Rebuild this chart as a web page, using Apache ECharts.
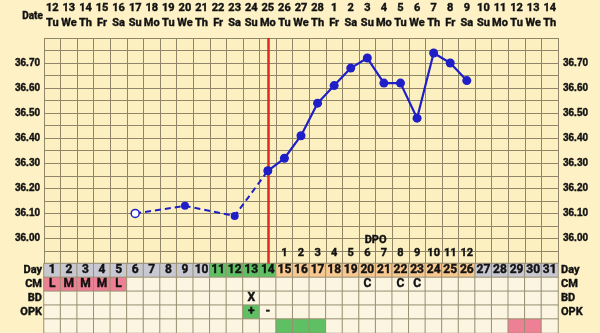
<!DOCTYPE html>
<html><head><meta charset="utf-8">
<script src="https://cdn.jsdelivr.net/npm/echarts@6/dist/echarts.min.js"></script>
<style>html,body{margin:0;padding:0;background:#fdf1c5;}#c{width:600px;height:333px;}</style>
</head><body><div id="c"></div>
<script>
const cycleDays = ['1','2','3','4','5','6','7','8','9','10','11','12','13','14','15','16','17','18','19','20','21','22','23','24','25','26','27','28','29','30','31'];
const dates = ['12','13','14','15','16','17','18','19','20','21','22','23','24','25','26','27','28','1','2','3','4','5','6','7','8','9','10','11','12','13','14'];
const weekdays = ['Tu','We','Th','Fr','Sa','Su','Mo','Tu','We','Th','Fr','Sa','Su','Mo','Tu','We','Th','Fr','Sa','Su','Mo','Tu','We','Th','Fr','Sa','Su','Mo','Tu','We','Th'];
const tempsDashed = [null,null,null,null,null,36.10,null,null,36.13,null,null,36.09,null,36.27,null,null,null,null,null,null,null,null,null,null,null,null,null,null,null,null,null];
const tempsSolid = [null,null,null,null,null,null,null,null,null,null,null,null,null,36.27,36.32,36.41,36.54,36.61,36.68,36.72,36.62,36.62,36.48,36.74,36.70,36.63,null,null,null,null,null];
const openPoints = [5];
const dpoLabels = ['','','','','','','','','','','','','','','1','2','3','4','5','6','7','8','9','10','11','12','','','','',''];
const cmRow = ['L','M','M','M','L','','','','','','','','','','','','','','','C','','C','C','','','','','','','',''];
const bdRow = ['','','','','','','','','','','','','X','','','','','','','','','','','','','','','','','',''];
const opkRow = ['','','','','','','','','','','','','+','-','','','','','','','','','','','','','','','','',''];
const dayPhase = ['b','b','b','b','b','b','b','b','b','b','f','f','f','f','l','l','l','l','l','l','l','l','l','l','l','l','b','b','b','b','b'];
const extraRow = ['','','','','','','','','','','','','','','g','g','g','','','','','','','','','','','','p','p',''];
const rowNames = ['Day','CM','BD','OPK',''];
const ovulationDay = '14';
</script>
<script>
const C = {
  cell:'#fcf5e2', grey:'#c8c8d2', green:'#5fbf63', orange:'#f7c88f', pink:'#ee8095',
  line:'#8f8568', blue:'#1f1fc8', red:'#e02a22'
};
const FONT = 'Roboto';
function cellColor(r, i){
  if (r === 0) return dayPhase[i]==='f'?C.green:(dayPhase[i]==='l'?C.orange:C.grey);
  if (r === 1) return (cmRow[i]==='L'||cmRow[i]==='M')?C.pink:C.cell;
  if (r === 3) return opkRow[i]==='+'?C.green:C.cell;
  if (r === 4) return extraRow[i]==='g'?C.green:(extraRow[i]==='p'?C.pink:C.cell);
  return C.cell;
}
const rowsText = [cycleDays, cmRow, bdRow, opkRow, extraRow.map(()=> '')];
const heat = [];
for (let r=0;r<5;r++) for (let i=0;i<31;i++){
  heat.push({value:[i,r,1], itemStyle:{color:cellColor(r,i)}, label:{formatter: rowsText[r][i]}});
}
const dashedData = tempsDashed.map((v,i)=> v==null?null:(openPoints.includes(i)?{value:v,itemStyle:{color:'#ffffff',borderColor:C.blue,borderWidth:1.5}}:v));
const yFmt = v => { const r=Math.round(v*100); if (r%10!==0||r<3600||r>3670) return ''; return v.toFixed(2); };
const lbl = (extra) => Object.assign({fontFamily:FONT, fontWeight:'bold', color:'#111', textBorderColor:'#111', textBorderWidth:0.4}, extra);
const chart = echarts.init(document.getElementById('c'), null, {renderer:'canvas'});
const opt = {
  backgroundColor:'#fdf1c5',
  animation:false,
  grid:[
    {left:44, right:42, top:38, height:225.5, show:true, backgroundColor:'#fcf0c1', borderWidth:0},
    {left:44, right:42, top:263.5, height:83}
  ],
  xAxis:[
    {gridIndex:0, type:'category', data:dpoLabels, position:'bottom', boundaryGap:true,
     axisLine:{show:false}, axisTick:{show:false},
     axisLabel:lbl({inside:true, margin:5, interval:0, fontSize:11}),
     splitLine:{show:true, lineStyle:{color:C.line, width:1}}},
    {gridIndex:0, type:'category', data:dates, position:'top',
     axisLine:{show:false}, axisTick:{show:false},
     axisLabel:lbl({margin:24, interval:0, fontSize:11})},
    {gridIndex:0, type:'category', data:weekdays, position:'top', offset:0,
     axisLine:{show:false}, axisTick:{show:false},
     axisLabel:lbl({margin:9, interval:0, fontSize:11})},
    {gridIndex:1, type:'category', data:cycleDays, axisLine:{show:false}, axisTick:{show:false}, axisLabel:{show:false}, splitLine:{show:false}}
  ],
  yAxis:[
    {gridIndex:0, type:'value', min:35.9, max:36.8, interval:0.05, position:'left',
     axisLine:{show:false}, axisTick:{show:false},
     axisLabel:lbl({fontFamily:'Liberation Sans', formatter:yFmt, margin:4, fontSize:10, showMinLabel:false, showMaxLabel:false}),
     splitLine:{show:true, lineStyle:{color:C.line, width:1}}},
    {gridIndex:0, type:'value', min:35.9, max:36.8, interval:0.05, position:'right',
     axisLine:{show:false}, axisTick:{show:false},
     axisLabel:lbl({fontFamily:'Liberation Sans', formatter:yFmt, margin:5, fontSize:10, showMinLabel:false, showMaxLabel:false}),
     splitLine:{show:false}},
    {gridIndex:1, type:'category', data:rowNames, inverse:true, position:'left',
     axisLine:{show:false}, axisTick:{show:false},
     axisLabel:lbl({margin:2, interval:0, fontSize:11})},
    {gridIndex:1, type:'category', data:rowNames, inverse:true, position:'right',
     axisLine:{show:false}, axisTick:{show:false},
     axisLabel:lbl({margin:3, interval:0, fontSize:11})}
  ],
  series:[
    {type:'heatmap', xAxisIndex:3, yAxisIndex:2, data:heat,
     itemStyle:{borderColor:'#9a9072', borderWidth:1},
     label:lbl({show:true, fontSize:12}),
     emphasis:{disabled:true}},
    {type:'line', xAxisIndex:0, yAxisIndex:0, data:dashedData, connectNulls:true,
     symbol:'circle', symbolSize:8, itemStyle:{color:C.blue},
     lineStyle:{color:C.blue, width:2, type:[6,4]}, z:4},
    {type:'line', xAxisIndex:0, yAxisIndex:0, data:tempsSolid, connectNulls:false,
     symbol:'circle', symbolSize:9, itemStyle:{color:C.blue},
     lineStyle:{color:C.blue, width:2.2}, z:5,
     markLine:{silent:true, symbol:'none', label:{show:false},
       lineStyle:{color:C.red, width:2.5, type:'solid'},
       data:[{xAxis: cycleDays.indexOf(ovulationDay)}], z:3}}
  ]
};
chart.setOption(opt);
const p1 = chart.convertToPixel({xAxisIndex:0}, 19);
const p2 = chart.convertToPixel({xAxisIndex:0}, 20);
chart.setOption({graphic:[
  {type:'text', left:22, top:11, style:{text:'Date', font:'bold 10px Roboto', fill:'#111', stroke:'#111', lineWidth:0.4}},
  {type:'text', x:(p1+p2)/2, y:240, style:{text:'DPO', font:'bold 11px Roboto', fill:'#111', stroke:'#111', lineWidth:0.4, textAlign:'center', textVerticalAlign:'middle'}}
]});
</script>
</body></html>
